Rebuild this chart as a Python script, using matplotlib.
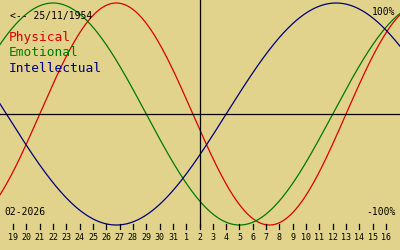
import datetime as dt
import numpy as np
import matplotlib
matplotlib.use("Agg")
import matplotlib.pyplot as plt

birth = dt.date(1954, 11, 25)
today = dt.date(2026, 2, 2)
start = dt.date(2026, 1, 19)
n_days = 29
cycle_names = ["Physical", "Emotional", "Intellectual"]
cycle_periods = [23, 28, 33]
cycle_colors = ["#dd0000", "#007a00", "#00007a"]

bg = "#e1d38b"
fig = plt.figure(figsize=(4, 2.5), dpi=100, facecolor=bg)
ax = fig.add_axes([0, 0, 1, 1], facecolor=bg)
ax.set_xlim(-0.98, 29.05)
ax.set_ylim(-1.225, 1.027)
ax.axis("off")

t = np.linspace(-1.5, 30, 2000)
base = (start - birth).days
for name, per, col in zip(cycle_names, cycle_periods, cycle_colors):
    ax.plot(t, np.sin(2 * np.pi * (base + t) / per), color=col, lw=0.9)

tday = (today - start).days
ax.axhline(0, color="black", lw=0.9)
ax.plot([tday, tday], [1.1, -1.02], color="black", lw=0.9)

mono = "DejaVu Sans Mono"
for i in range(n_days):
    d = start + dt.timedelta(days=i)
    ax.plot([i, i], [-0.995, -1.04], color="black", lw=0.9)
    ax.text(i, -1.11, str(d.day), ha="center", va="center", fontsize=6,
            family=mono, color="black")

ax.text(0.025, 0.935, "<-- " + birth.strftime("%d/%m/%Y"), transform=ax.transAxes,
        fontsize=7, family=mono, va="center", ha="left")
for k, (name, col) in enumerate(zip(cycle_names, cycle_colors)):
    ax.text(0.022, 0.848 - k * 0.06, name, transform=ax.transAxes, fontsize=9.3,
            family=mono, color=col, va="center", ha="left")
ax.text(0.988, 0.952, "100%", transform=ax.transAxes, fontsize=7, family=mono,
        va="center", ha="right")
ax.text(0.988, 0.152, "-100%", transform=ax.transAxes, fontsize=7, family=mono,
        va="center", ha="right")
ax.text(0.012, 0.152, today.strftime("%m-%Y"), transform=ax.transAxes, fontsize=7,
        family=mono, va="center", ha="left")

fig.savefig("out.png", dpi=100, facecolor=bg)
